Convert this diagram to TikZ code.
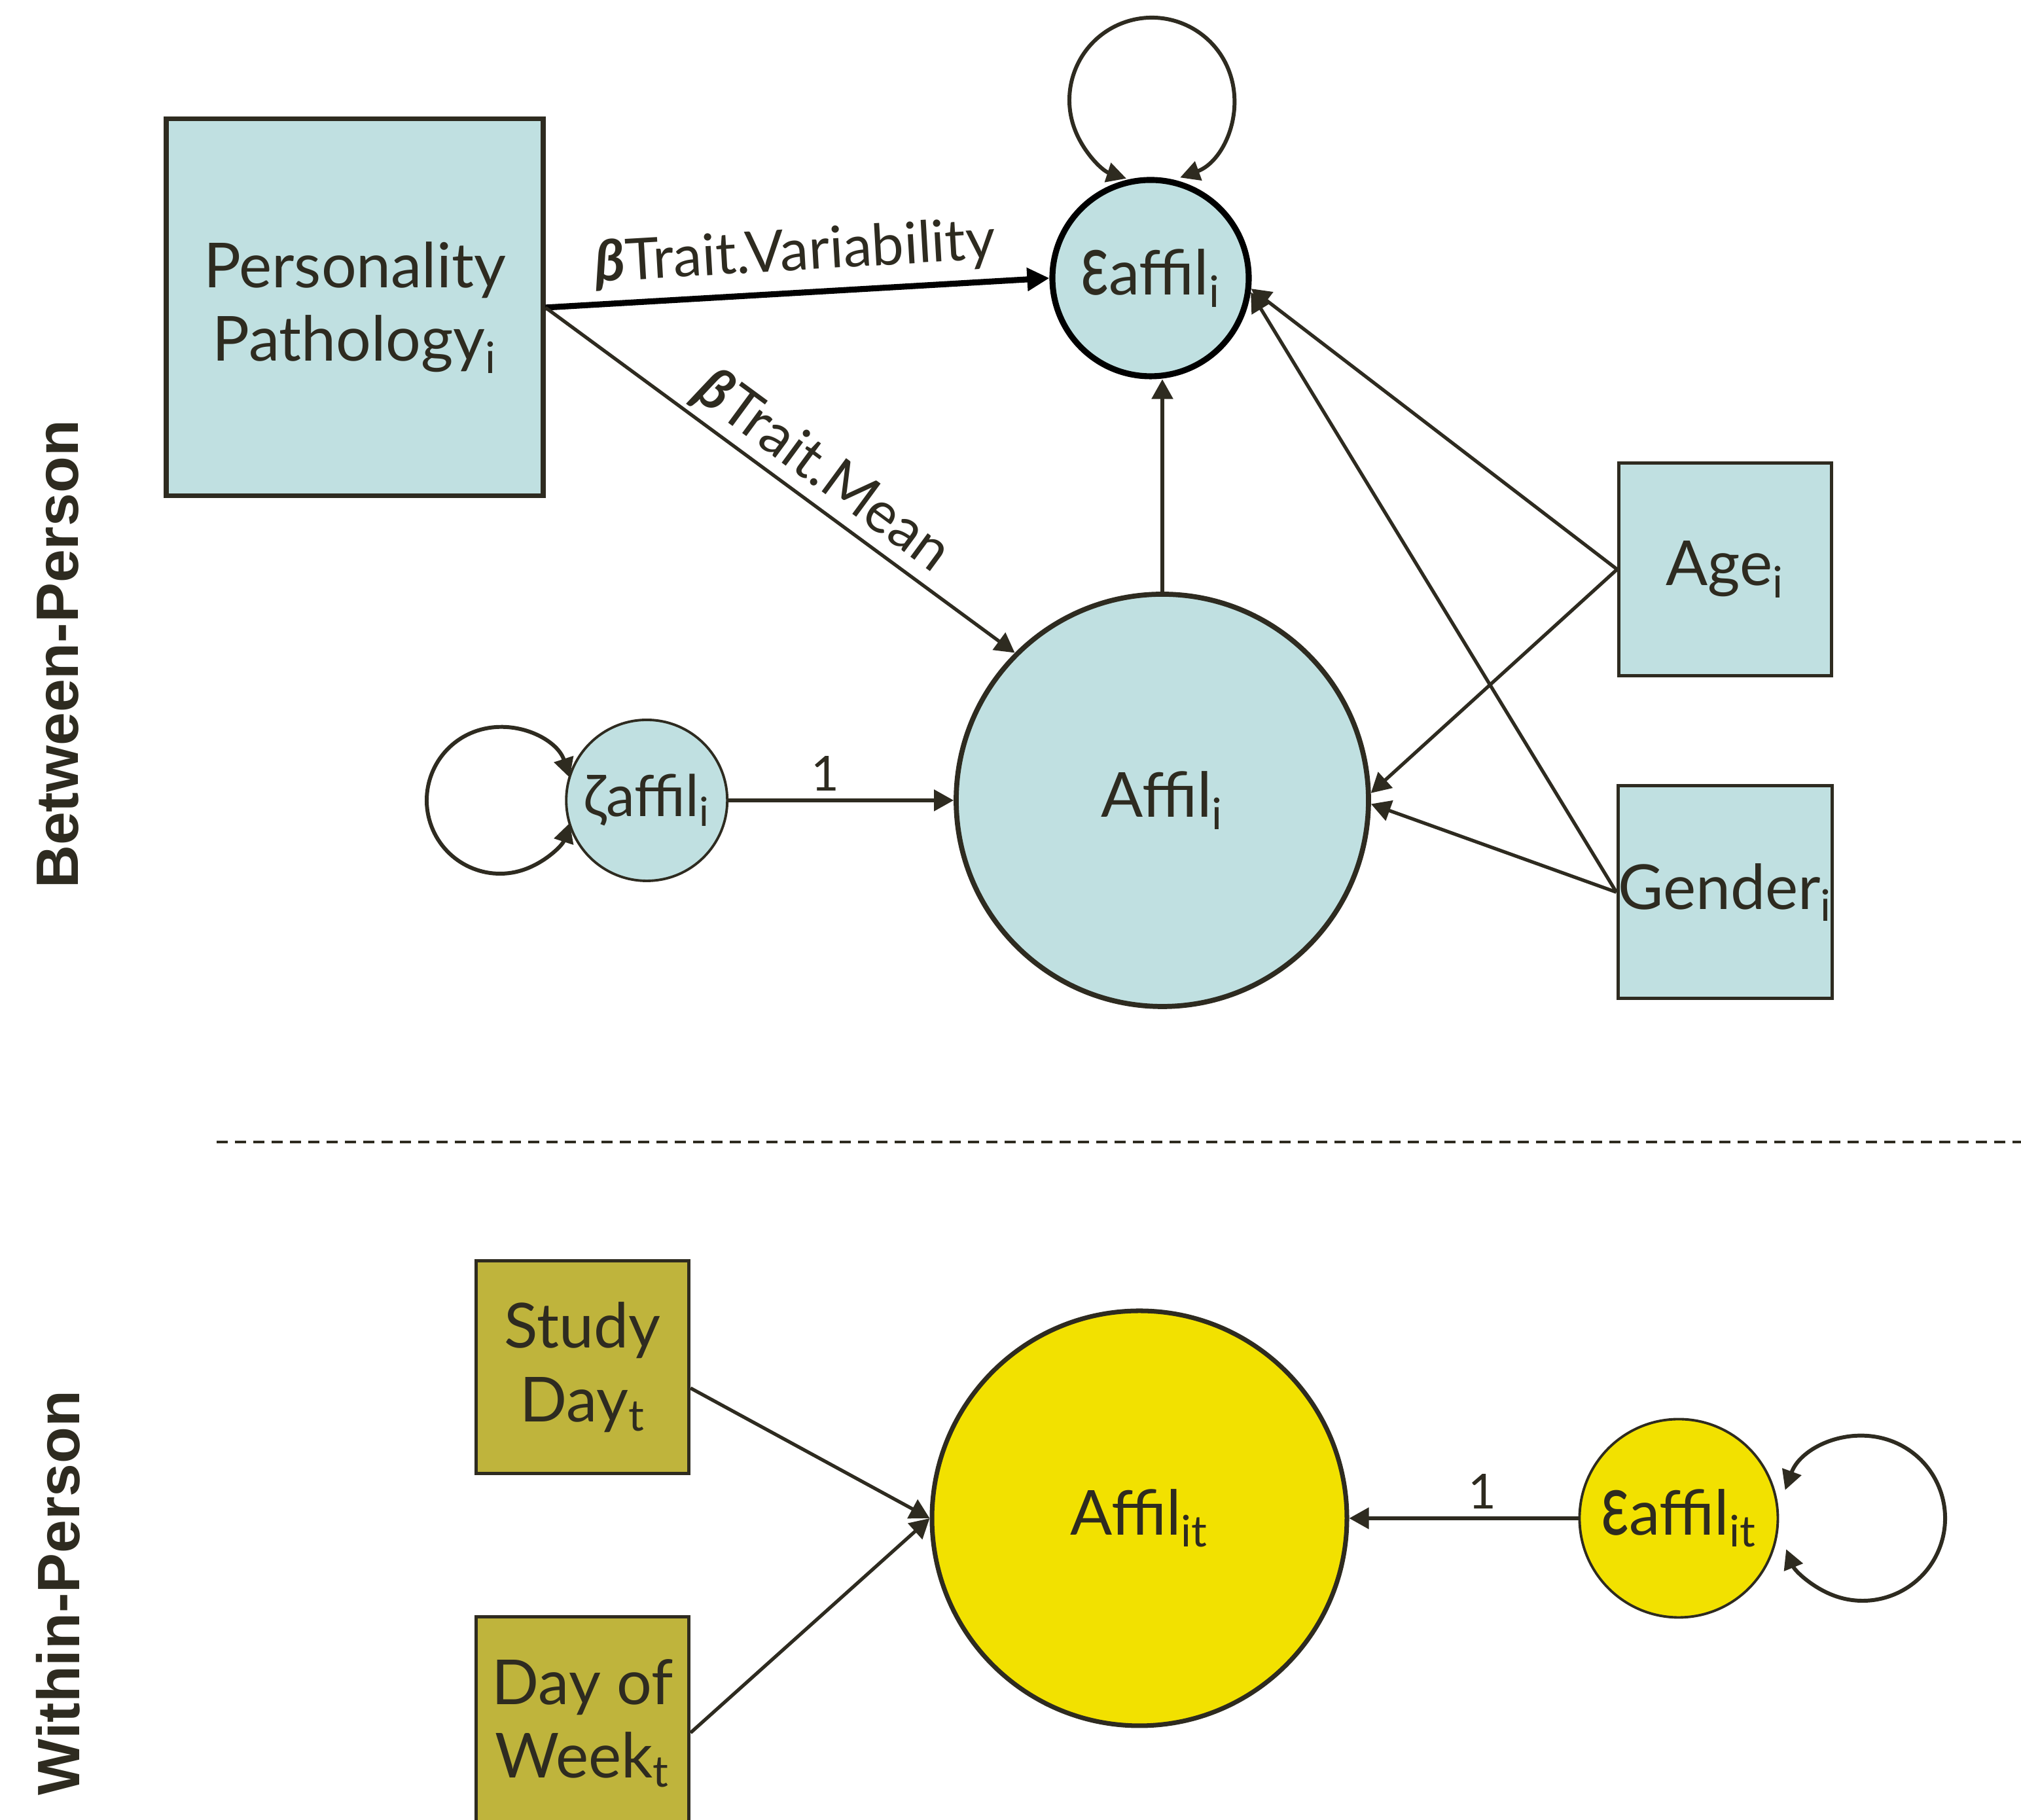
\documentclass[tikz,border=0pt]{standalone}
\usepackage{fontspec}
\setmainfont{Lato}
\newfontfamily\sidefont{Liberation Sans}
\usetikzlibrary{arrows.meta,positioning}

\definecolor{ink}{HTML}{2E2B20}
\definecolor{paleblue}{HTML}{C0E0E1}
\definecolor{gold}{HTML}{F2E100}
\definecolor{olive}{HTML}{BFB43C}

\newcommand{\openeps}{\scalebox{1}[1.4]{ε}}

\begin{document}
\begin{tikzpicture}[
		font=\fontsize{27}{32}\selectfont,
		text=ink,
		obs/.style={draw=ink, line width=1.5pt, fill=paleblue, minimum size=3.25cm, inner sep=0pt, align=center},
		latent/.style={circle, draw=ink, fill=paleblue, inner sep=0pt, align=center},
		regress/.style={draw=ink, line width=1.5pt, -{Triangle[length=0.3cm, width=0.32cm]}},
		loopy/.style={draw=ink, line width=1.7pt, {Triangle[length=0.3cm, width=0.3cm]}-{Triangle[length=0.3cm, width=0.3cm]}},
		coef/.style={font=\fontsize{25}{30}\selectfont, sloped, above},
		one/.style={above, font=\fontsize{21}{24}\selectfont},
		sidelabel/.style={rotate=90, font=\sidefont\bfseries\fontsize{26}{30}\selectfont},
	]
		\useasboundingbox (0,0) rectangle (30.88,27.81);
		
		% between-person level
		\node (pp) [obs, line width=2pt, minimum size=5.76cm] at (5.42,23.11) {Personality\\Pathology\textsubscript{i}};
		\node (eps) [latent, draw=black, line width=2.6pt, minimum size=3cm] at (17.58,23.56) {\openeps affil\textsubscript{i}};
		\node (affil) [latent, line width=2.2pt, minimum size=6.3cm] at (17.76,15.58) {Affil\textsubscript{i}};
		\node (zeta) [latent, line width=1.1pt, minimum size=2.46cm, left=3.44cm of affil, font=\fontsize{25}{30}\selectfont] {ζaffil\textsubscript{i}};
		\node (age) [obs] at (26.36,19.11) {Age\textsubscript{i}};
		\node (gender) [obs, below=1.63cm of age] {Gender\textsubscript{i}};
		
		\coordinate (epsloop) at (17.60,26.28);
		\coordinate (zetaloop) at (7.64,15.58);
		
		\draw[regress, draw=black, line width=2.6pt, -{Triangle[length=0.34cm, width=0.34cm]}] (pp.east) -- node[coef, inner sep=0.15cm] {\textbf{\textit{β}}Trait.Variability} (eps.west);
		\draw[regress] (pp.east) -- node[coef, pos=0.55, inner sep=0.06cm] {\textbf{\textit{β}}Trait.Mean} (affil.135);
		\draw[regress] (affil.north) -- (affil.north |- eps.south);
		\draw[regress] (age.west) -- (eps.-6);
		\draw[regress] (age.west) -- (affil.2);
		\draw[regress] (gender.west) -- (eps.-8);
		\draw[regress] (gender.west) -- (affil.-1);
		\draw[regress] (zeta) -- node[one, pos=0.43] {1} (affil);
		
		\draw[loopy] ([shift={(-70:1.26)}]epsloop) arc[start angle=-70, end angle=252, radius=1.26];
		\draw[loopy] ([shift={(18:1.12)}]zetaloop) arc[start angle=18, end angle=342, radius=1.12];
		
		% divider
		\coordinate (cutL) at (3.31,10.36);
		\coordinate (cutR) at (30.88,10.36);
		\draw[ink, line width=1.3pt, dash pattern=on 0.165cm off 0.115cm] (cutL) -- (cutR);
		
		% within-person level
		\node (studyday) [obs, fill=olive] at (8.90,6.92) {Study\\Day\textsubscript{t}};
		\node (dow) [obs, fill=olive, below=2.14cm of studyday] {Day of\\Week\textsubscript{t}};
		\node (affilit) [latent, fill=gold, line width=2pt, minimum size=6.34cm] at (17.41,4.61) {Affil\textsubscript{it}};
		\node (epsit) [latent, fill=gold, line width=1.1pt, minimum size=3.03cm, right=3.5cm of affilit] {\openeps affil\textsubscript{it}};
		
		\coordinate (epsitloop) at (28.46,4.61);
		
		\draw[regress] (studyday.-11) -- (affilit.west);
		\draw[regress] (dow.-5) -- (affilit.west);
		\draw[regress] (epsit) -- node[one, pos=0.42] {1} (affilit);
		\draw[loopy] ([shift={(160:1.26)}]epsitloop) arc[start angle=160, end angle=-158, radius=1.26];
		
		\node (between) [sidelabel] at (0.89,17.81) {Between-Person};
		\node (within) [sidelabel] at (0.89,3.47) {Within-Person};
	\end{tikzpicture}
\end{document}
